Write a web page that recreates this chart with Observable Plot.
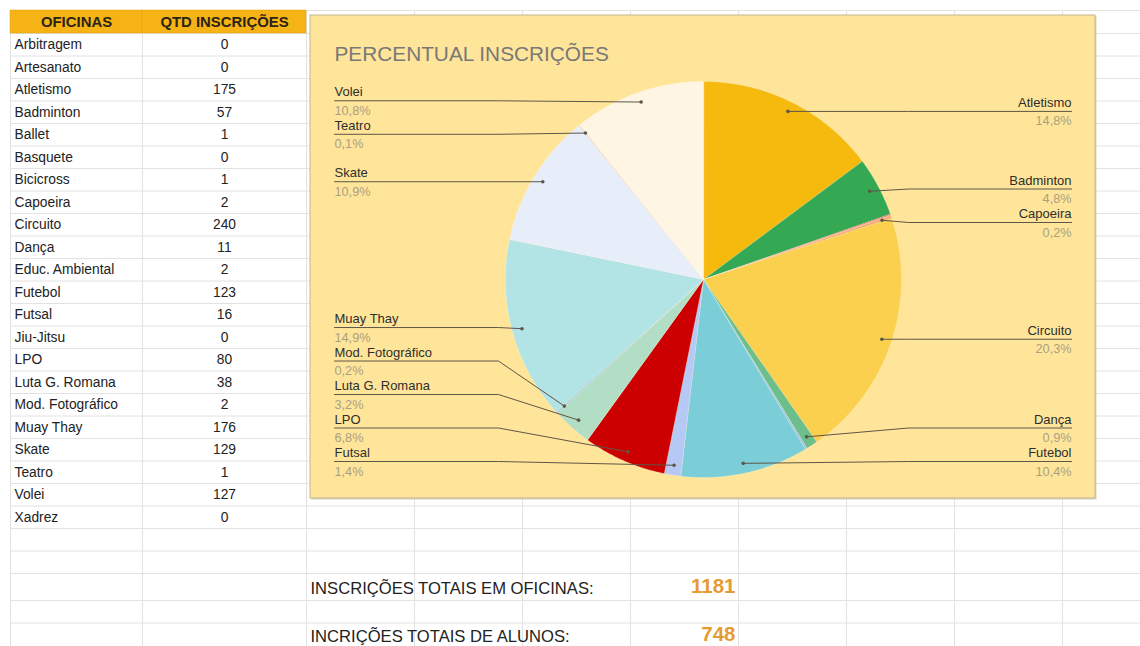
<!DOCTYPE html>
<html><head><meta charset="utf-8">
<script src="https://cdn.jsdelivr.net/npm/d3@7"></script>
<script src="https://cdn.jsdelivr.net/npm/@observablehq/plot@0.6"></script>
<style>
html,body{margin:0;padding:0;background:#fff;}
#chart svg{display:block;}
</style></head><body><div id="chart"></div>
<script>
// ---- data ----
const headers = ["OFICINAS", "QTD INSCRIÇÕES"];
const categories = ["Arbitragem","Artesanato","Atletismo","Badminton","Ballet","Basquete","Bicicross","Capoeira","Circuito","Dança","Educ. Ambiental","Futebol","Futsal","Jiu-Jitsu","LPO","Luta G. Romana","Mod. Fotográfico","Muay Thay","Skate","Teatro","Volei","Xadrez"];
const counts = [0,0,175,57,1,0,1,2,240,11,2,123,16,0,80,38,2,176,129,1,127,0];
const palette = ["#4285f4","#ea4335","#f6b90e","#34a853","#e06666","#46bdc6","#ff9e5e","#f0a070","#fcd04f","#6cbf8b","#9fc5e8","#7bced7","#b6c8f4","#999999","#cc0000","#b3dec6","#a9cfd8","#b2e3e5","#e8eef9","#f4cccc","#fef5e3","#cccccc"];
const labeledCategories = ["Atletismo","Badminton","Capoeira","Circuito","Dança","Futebol","Futsal","LPO","Luta G. Romana","Mod. Fotográfico","Muay Thay","Skate","Teatro","Volei"];
const chartTitle = "PERCENTUAL INSCRIÇÕES";
const totalLabels = ["INSCRIÇÕES TOTAIS EM OFICINAS:", "INCRIÇÕES TOTAIS DE ALUNOS:"];
const totalStudents = 748;

// ---- layout ----
const W = 1140, H = 646;
const tableLeft = 10, headerTop = 10, headerBottom = 33, rowH = 22.5;
const colEdges = [10, 142, 306];
const gridCols = [10, 142, 306, 414, 522, 630, 738, 846, 954, 1062];
const gridRows = [10, 33];
for (let k = 1; k <= 22; k++) gridRows.push(33 + k * rowH);
gridRows.push(550.5, 573, 600, 622.5);
const box = {x1: 310, x2: 1095, y1: 15, y2: 498};
const cx = 703, cy = 279, R = 198;

const totalInscr = d3.sum(counts);
const fmtPct = v => (v / totalInscr * 100).toFixed(1).replace(".", ",") + "%";

// pie geometry
const pieData = categories.map((name, i) => ({name, value: counts[i]})).filter(d => d.value > 0);
const arcs = d3.pie().value(d => d.value).sort(null)(pieData);
const polyPts = [];
for (const s of arcs) {
  polyPts.push({name: s.data.name, px: cx, py: cy});
  const n = Math.max(2, Math.ceil((s.endAngle - s.startAngle) / (Math.PI / 360)));
  for (let k = 0; k <= n; k++) {
    const a = s.startAngle + (s.endAngle - s.startAngle) * k / n;
    polyPts.push({name: s.data.name, px: cx + R * Math.sin(a), py: cy - R * Math.cos(a)});
  }
}

// labels
const labels = arcs.filter(s => labeledCategories.includes(s.data.name)).map(s => {
  const a = (s.startAngle + s.endAngle) / 2;
  const dx = cx + 0.95 * R * Math.sin(a), dy = cy - 0.95 * R * Math.cos(a);
  const right = a < Math.PI;
  return {name: s.data.name, pct: fmtPct(s.data.value), dx, dy, ty: dy, ly: dy, right};
});
function spread(items, minY, maxY, gap) {
  items.sort((a, b) => a.ty - b.ty);
  for (let iter = 0; iter < 500; iter++) {
    let moved = false;
    for (let i = 1; i < items.length; i++) {
      const o = gap - (items[i].ly - items[i - 1].ly);
      if (o > 0.01) { items[i].ly += o / 2; items[i - 1].ly -= o / 2; moved = true; }
    }
    for (const it of items) it.ly = Math.max(minY, Math.min(maxY, it.ly));
    if (!moved) break;
  }
}
const rightLabels = labels.filter(d => d.right);
const leftLabels = labels.filter(d => !d.right);
spread(rightLabels, 80, 461, 33.5);
spread(leftLabels, 80, 461, 33.5);
const leftEdge = 334, rightEdge = 1071, bendOff = R + 7;
const leaderPts = [];
for (const l of labels) {
  const ex = l.right ? rightEdge : leftEdge;
  const bx = l.right ? cx + bendOff : cx - bendOff;
  leaderPts.push({name: l.name, px: ex, py: l.ly}, {name: l.name, px: bx, py: l.ly}, {name: l.name, px: l.dx, py: l.dy});
}

const rowY = i => headerBottom + (i + 0.5) * rowH;
const totals = [totalInscr, totalStudents];
const totalY = [587, 635];

const labelText = (arr, x, anchor) => [
  Plot.text(arr, {x, y: d => d.ly - 8.5, text: "name", textAnchor: anchor, fontSize: 13, fill: "#2e2e2e"}),
  Plot.text(arr, {x, y: d => d.ly + 10, text: "pct", textAnchor: anchor, fontSize: 12.7, fill: "#ab9f82"})
];

const plot = Plot.plot({
  width: W, height: H, margin: 0,
  x: {domain: [0, W], range: [0, W], axis: null},
  y: {domain: [0, H], range: [0, H], axis: null},
  color: {domain: categories, range: palette},
  style: {fontFamily: "'Liberation Sans', Arial, sans-serif", background: "#fff"},
  marks: [
    // spreadsheet grid
    Plot.ruleY(gridRows, {y: d => d, x1: tableLeft, x2: W, stroke: "#e2e2e2", strokeWidth: 1}),
    Plot.ruleX(gridCols, {x: d => d, y1: headerTop, y2: H, stroke: "#e2e2e2", strokeWidth: 1}),
    // header
    Plot.rect(headers, {x1: (d, i) => colEdges[i], x2: (d, i) => colEdges[i + 1], y1: headerTop, y2: headerBottom, fill: "#f5b316", stroke: "#dfa414", strokeWidth: 0.5}),
    Plot.text(headers, {x: (d, i) => (colEdges[i] + colEdges[i + 1]) / 2, y: (headerTop + headerBottom) / 2 + 0.5, text: d => d, fontSize: 14.9, fontWeight: "bold", fill: "#2b2416"}),
    // table body
    Plot.text(categories, {x: 14, y: (d, i) => rowY(i), text: d => d, textAnchor: "start", fontSize: 13.8, fill: "#222"}),
    Plot.text(counts, {x: 224, y: (d, i) => rowY(i), text: d => String(d), fontSize: 13.8, fill: "#222"}),
    // chart box
    Plot.rect([0], {x1: box.x1 + 1.5, x2: box.x2 + 1.5, y1: box.y1 + 1.5, y2: box.y2 + 1.5, fill: "#d9d4c4"}),
    Plot.rect([0], {x1: box.x1, x2: box.x2, y1: box.y1, y2: box.y2, fill: "#ffe599", stroke: "#c4b68e", strokeWidth: 1}),
    Plot.text([chartTitle], {x: leftEdge, y: 54, text: d => d, textAnchor: "start", fontSize: 20.8, fill: "#787878"}),
    // pie
    Plot.line(polyPts, {x: "px", y: "py", z: "name", fill: "name", stroke: "#ffffff", strokeOpacity: 0.35, strokeWidth: 0.6, curve: "linear-closed"}),
    // leaders
    Plot.line(leaderPts, {x: "px", y: "py", z: "name", stroke: "#5e5648", strokeWidth: 1}),
    Plot.dot(labels, {x: "dx", y: "dy", r: 1.8, fill: "#5e5648", stroke: null}),
    ...labelText(rightLabels, rightEdge, "end"),
    ...labelText(leftLabels, leftEdge, "start"),
    // totals
    Plot.text(totalLabels, {x: 310, y: (d, i) => totalY[i] + 1, text: d => d, textAnchor: "start", fontSize: 16.6, fill: "#222"}),
    Plot.text(totals, {x: 735, y: (d, i) => totalY[i] - 1, text: d => String(d), textAnchor: "end", fontSize: 20.5, fontWeight: "bold", fill: "#e69b32"})
  ]
});
document.getElementById("chart").appendChild(plot);
</script>
</body></html>
